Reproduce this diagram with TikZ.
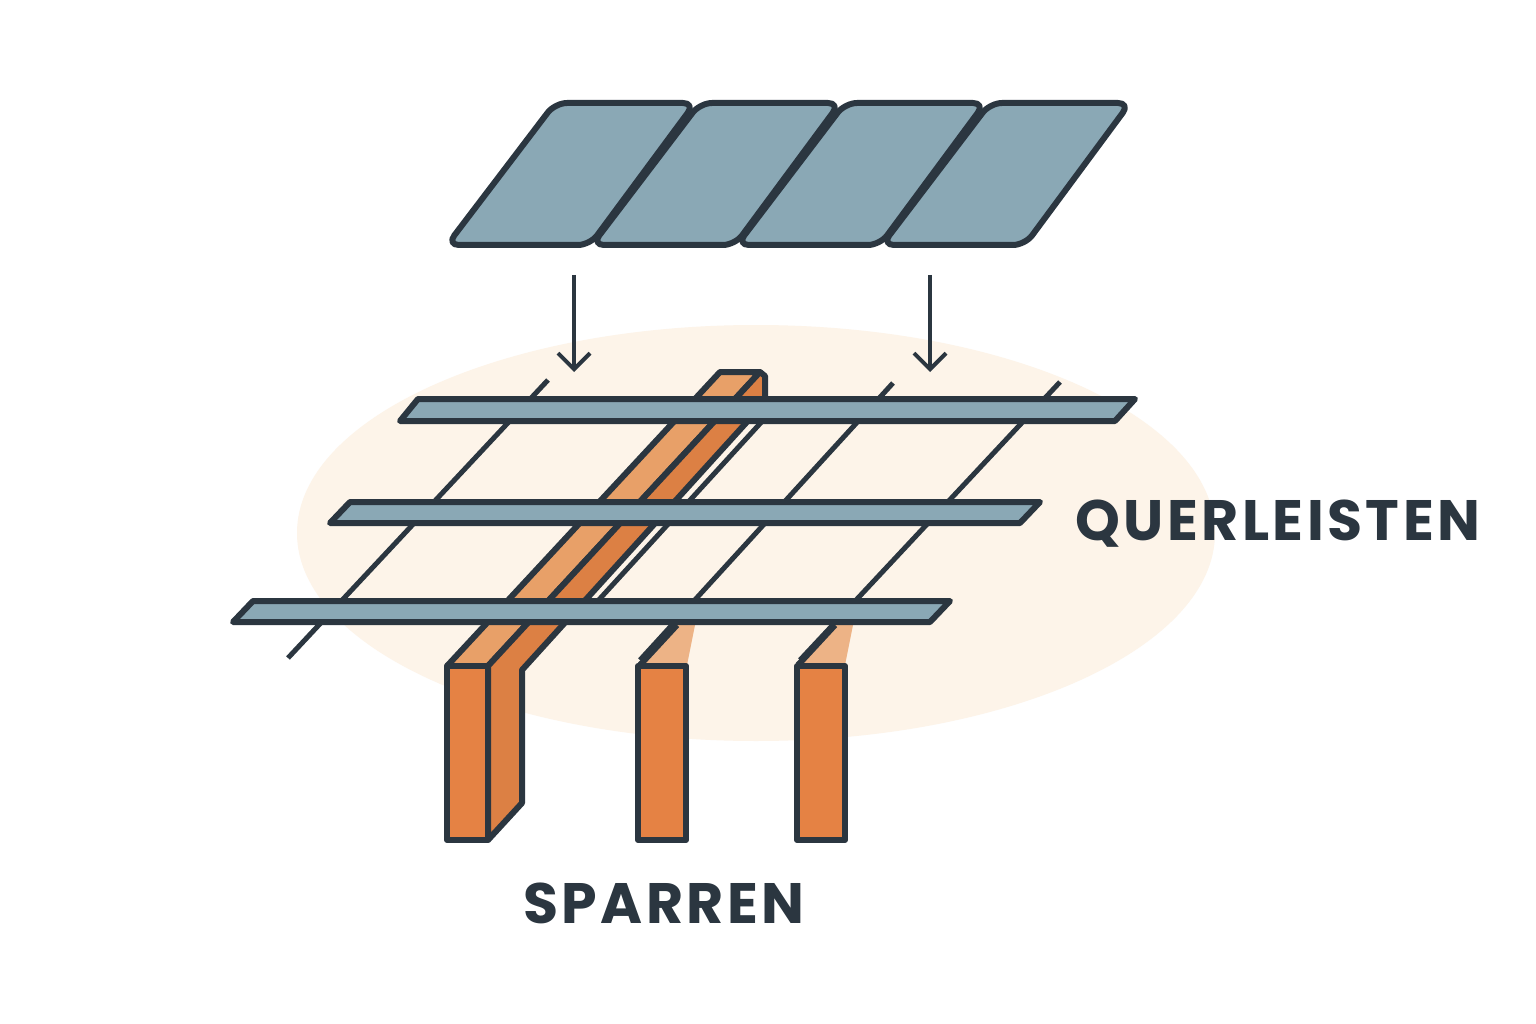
\documentclass[tikz,border=0pt]{standalone}
\usepackage{fontspec}
\setmainfont{Poppins}[LetterSpace=6]
\usetikzlibrary{arrows.meta}
\definecolor{ink}{HTML}{2B3640}
\definecolor{panel}{HTML}{8AA8B5}
\definecolor{halo}{HTML}{FDF4E9}
\definecolor{orA}{HTML}{E8A068}
\definecolor{orB}{HTML}{DC8044}
\definecolor{orC}{HTML}{E58244}
\begin{document}
\begin{tikzpicture}[x=1pt,y=-1pt,
  pan/.style={fill=panel,draw=ink,line width=6pt,rounded corners=12pt,line join=round},
  bar/.style={fill=panel,draw=ink,line width=6pt,line join=round},
  thin/.style={draw=ink,line width=5pt},
  wood/.style={draw=ink,line width=6pt,line join=round},
  arr/.style={draw=ink,line width=4pt,-{Straight Barb[length=16pt,width=32pt,line width=4pt]}},
  lbl/.style={text=ink,font=\bfseries\fontsize{57}{62}\selectfont}]
\useasboundingbox (0,0) rectangle (1536,1024);
\fill[white] (0,0) rectangle (1536,1024);
\fill[halo] (756,533) ellipse [x radius=459, y radius=208];
% panels
\foreach \i in {0,1,2,3}{
  \draw[pan] ({555+145*\i},103) -- ({695+145*\i},103) -- ({590+145*\i},245) -- ({447+145*\i},245) -- cycle;
}
% arrows
\coordinate (a1s) at (574,275); \coordinate (a1e) at (574,372);
\coordinate (a2s) at (930,275); \coordinate (a2e) at (930,372);
\draw[arr] (a1s) -- (a1e);
\draw[arr] (a2s) -- (a2e);
% thin battens
\draw[thin] (548,380) -- (288,658);
\draw[thin] (893,383) -- (640,660);
\draw[thin] (1060,382) -- (800,660);
\draw[thin] (777,405) -- (585,615);
% posts 2 and 3 caps
\fill[orA!80] (640,665) -- (677,625) -- (695,625) -- (687,665) -- cycle;
\fill[orA!80] (798,665) -- (835,625) -- (853,625) -- (845,665) -- cycle;
\draw[wood] (640,665) -- (677,625);
\draw[wood] (798,665) -- (835,625);
\draw[wood,fill=orC] (638,666) rectangle (686,840);
\draw[wood,fill=orC] (797,666) rectangle (845,840);
% main rafter
\draw[wood,fill=orA] (720,372) -- (760,372) -- (488,666) -- (447,666) -- cycle;
\draw[wood,fill=orB] (760,372) -- (765,376) -- (765,402) -- (522,670) -- (522,803) -- (488,840) -- (488,666) -- cycle;
\draw[wood,fill=orC] (447,666) rectangle (488,840);
% cross battens
\draw[bar] (418,399) -- (1135,399) -- (1115,421) -- (400,421) -- cycle;
\draw[bar] (350,502) -- (1040,502) -- (1020,523) -- (330,523) -- cycle;
\draw[bar] (253,601) -- (950,601) -- (930,622) -- (233,622) -- cycle;
% labels
\node[lbl,anchor=west] (q) at (1072,524) {QUERLEISTEN};
\node[lbl] (s) at (664,903) {SPARREN};
\end{tikzpicture}
\end{document}
